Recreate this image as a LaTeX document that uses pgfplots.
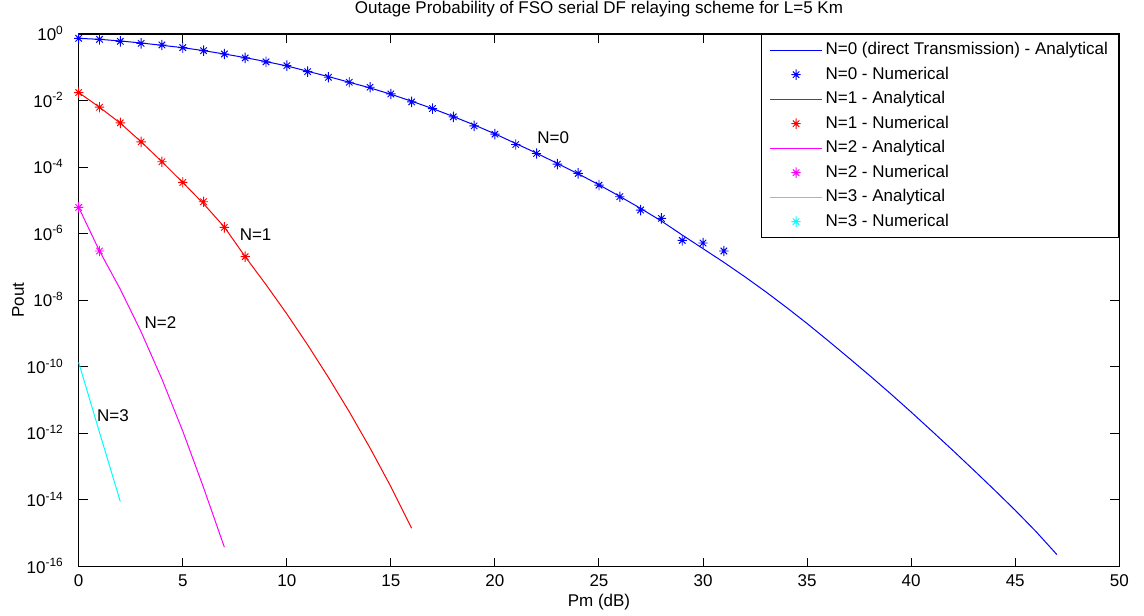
\documentclass[border=0pt]{standalone}
\usepackage{fontspec}
\setmainfont{Liberation Sans}
\usepackage{pgfplots}
\pgfplotsset{compat=1.18}
\pgfdeclareplotmark{mstar}{%
  \pgfpathmoveto{\pgfpoint{0pt}{\pgfplotmarksize}}\pgfpathlineto{\pgfpoint{0pt}{-\pgfplotmarksize}}%
  \pgfpathmoveto{\pgfpoint{0.9\pgfplotmarksize}{0pt}}\pgfpathlineto{\pgfpoint{-0.9\pgfplotmarksize}{0pt}}%
  \pgfpathmoveto{\pgfpoint{0.62\pgfplotmarksize}{0.62\pgfplotmarksize}}\pgfpathlineto{\pgfpoint{-0.62\pgfplotmarksize}{-0.62\pgfplotmarksize}}%
  \pgfpathmoveto{\pgfpoint{-0.62\pgfplotmarksize}{0.62\pgfplotmarksize}}\pgfpathlineto{\pgfpoint{0.62\pgfplotmarksize}{-0.62\pgfplotmarksize}}%
  \pgfusepathqstroke}
\definecolor{mblue}{RGB}{0,0,255}
\definecolor{mred}{RGB}{255,0,0}
\definecolor{mmag}{RGB}{255,0,255}
\definecolor{mcyan}{RGB}{0,255,255}
\begin{document}
\fontsize{17}{20}\selectfont
\begin{tikzpicture}
\path[use as bounding box] (-78.7pt,-49.5pt) rectangle (1065.3pt,566.5pt);
\begin{axis}[
  at={(0,0)}, anchor=south west,
  scale only axis, width=1040.6pt, height=532.5pt,
  xmin=0, xmax=50, ymin=1e-16, ymax=1,
  ymode=log, yminorticks=false,
  clip=false,
  axis line style={line width=1.2pt},
  tick style={line width=1pt, black},
  major tick length=9pt,
  tick pos=both, tick align=inside,
  xtick={0,5,10,15,20,25,30,35,40,45,50},
  xticklabels={0,5,10,15,20,25,30,35,40,45,50},
  ytick={1e-16,1e-14,1e-12,1e-10,1e-8,1e-6,1e-4,1e-2,1},
  yticklabels={10\textsuperscript{-16},10\textsuperscript{-14},10\textsuperscript{-12},10\textsuperscript{-10},10\textsuperscript{-8},10\textsuperscript{-6},10\textsuperscript{-4},10\textsuperscript{-2},10\textsuperscript{0}},
  xticklabel style={yshift=-2.5pt},
  yticklabel style={anchor=base east, yshift=-6.5pt, xshift=-9.5pt},
  xlabel={Pm (dB)},
  ylabel={Pout},
  xlabel style={at={(axis description cs:0.5,-0.0751)}, anchor=base},
  ylabel style={at={(axis description cs:-0.0526,0.5)}, anchor=base},
  title={Outage Probability of FSO serial DF relaying scheme for L=5 Km},
  title style={at={(axis description cs:0.5,1)}, anchor=base, yshift=14.7pt},
  legend cell align=left,
  legend image code/.code={\draw[mark repeat=2,mark phase=2,#1] plot coordinates {(0pt,0pt) (26pt,0pt) (52pt,0pt)};},
  legend style={at={(1,1)}, anchor=north east, draw=black, line width=0.8pt, fill=white,
    inner xsep=8pt, inner ysep=3.5pt, row sep=0pt, column sep=0pt,
    nodes={inner xsep=3pt, inner ysep=4.2pt, text height=12.5pt, text depth=3.6pt}},
]
% N=0 analytical
\addplot[mblue, draw=mblue, line width=1pt] coordinates {
(0,7.41e-1)(1,6.92e-1)(2,6.17e-1)(3,5.37e-1)(4,4.57e-1)(5,3.89e-1)(6,3.16e-1)(7,2.51e-1)(8,1.95e-1)(9,1.48e-1)
(10,1.10e-1)(11,7.59e-2)(12,5.25e-2)(13,3.55e-2)(14,2.40e-2)(15,1.55e-2)(16,9.55e-3)(17,5.75e-3)(18,3.31e-3)(19,1.86e-3)
(20,1.00e-3)(21,5.13e-4)(22,2.63e-4)(23,1.29e-4)(24,6.31e-5)(25,2.95e-5)(26,1.32e-5)(27,5.75e-6)(28,2.40e-6)(29,9.12e-7)
(30,3.55e-7)(31,1.38e-7)(32,5.13e-8)(33,1.82e-8)(34,6.17e-9)(35,2.00e-9)(36,6.17e-10)(37,1.86e-10)(38,5.50e-11)(39,1.58e-11)
(40,4.37e-12)(41,1.17e-12)(42,3.09e-13)(43,7.94e-14)(44,2.00e-14)(45,4.90e-15)(46,1.12e-15)(47,2.29e-16)};
\addlegendentry{N=0 (direct Transmission) - Analytical}
% N=0 numerical
\addplot[mblue, draw=mblue, only marks, mark=mstar, mark size=5.2pt, line width=0.95pt] coordinates {
(0,7.41e-1)(1,6.92e-1)(2,6.03e-1)(3,5.25e-1)(4,4.68e-1)(5,3.89e-1)(6,3.16e-1)(7,2.51e-1)(8,1.91e-1)(9,1.45e-1)
(10,1.12e-1)(11,7.41e-2)(12,5.01e-2)(13,3.55e-2)(14,2.51e-2)(15,1.58e-2)(16,9.12e-3)(17,5.75e-3)(18,3.24e-3)(19,1.74e-3)
(20,9.77e-4)(21,4.79e-4)(22,2.57e-4)(23,1.23e-4)(24,6.46e-5)(25,2.88e-5)(26,1.29e-5)(27,5.13e-6)(28,2.88e-6)(29,6.31e-7)
(30,5.25e-7)(31,3.02e-7)};
\addlegendentry{N=0 - Numerical}
% N=1 analytical
\addplot[mred, draw=mred, line width=1pt] coordinates {
(0,1.74e-2)(1,6.31e-3)(2,2.09e-3)(3,5.75e-4)(4,1.45e-4)(5,3.47e-5)(6,7.94e-6)(7,1.58e-6)(8,2.04e-7)
(9,2.95e-8)(10,3.89e-9)(11,4.57e-10)(12,4.79e-11)(13,4.47e-12)(14,3.63e-13)(15,2.51e-14)(16,1.41e-15)};
\addlegendentry{N=1 - Analytical}
% N=1 numerical
\addplot[mred, draw=mred, only marks, mark=mstar, mark size=5.2pt, line width=0.95pt] coordinates {
(0,1.74e-2)(1,6.31e-3)(2,2.14e-3)(3,5.75e-4)(4,1.45e-4)(5,3.47e-5)(6,9.12e-6)(7,1.55e-6)(8,2.04e-7)};
\addlegendentry{N=1 - Numerical}
% N=2 analytical
\addplot[mmag, draw=mmag, line width=1pt] coordinates {
(0,6.17e-6)(1,3.02e-7)(2,2.14e-8)(3,1.12e-9)(4,4.27e-11)(5,1.17e-12)(6,2.34e-14)(7,3.80e-16)};
\addlegendentry{N=2 - Analytical}
% N=2 numerical
\addplot[mmag, draw=mmag, only marks, mark=mstar, mark size=5.2pt, line width=0.95pt] coordinates {
(0,6.17e-6)(1,3.02e-7)};
\addlegendentry{N=2 - Numerical}
% N=3 analytical
\addplot[mcyan, draw=mcyan, line width=1pt] coordinates {
(0,1.35e-10)(1,1.07e-12)(2,8.91e-15)};
\addlegendentry{N=3 - Analytical}
\addlegendimage{mcyan, draw=mcyan, only marks, mark=mstar, mark size=5.2pt, line width=0.95pt}
\addlegendentry{N=3 - Numerical}
\node[inner sep=0pt] at (axis cs:22.8,7.5e-4) {N=0};
\node[inner sep=0pt] at (axis cs:8.5,9.5e-7) {N=1};
\node[inner sep=0pt] at (axis cs:3.93,2.1e-9) {N=2};
\node[inner sep=0pt] at (axis cs:1.65,3.5e-12) {N=3};
\end{axis}
\end{tikzpicture}
\end{document}
